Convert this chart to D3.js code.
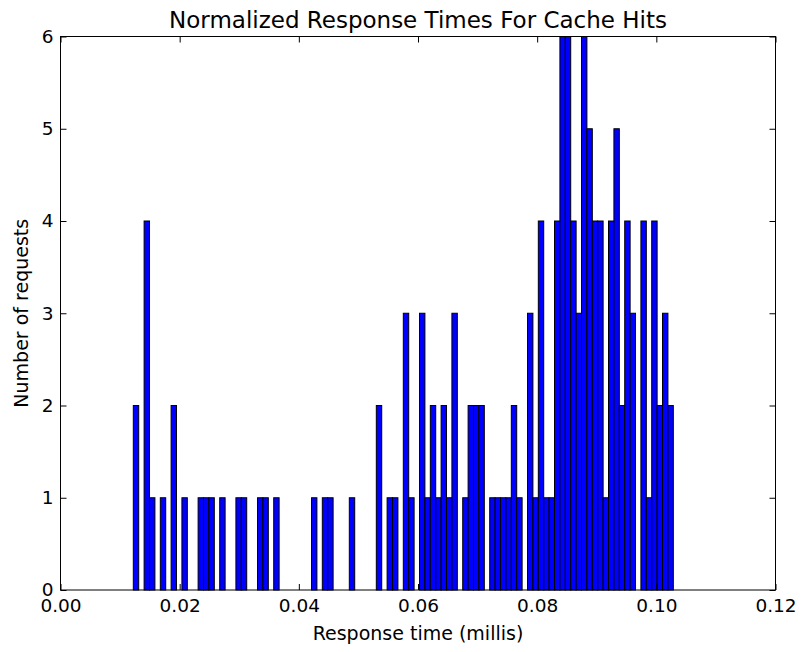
<!DOCTYPE html>
<html>
<head>
<meta charset="utf-8">
<script src="https://cdnjs.cloudflare.com/ajax/libs/d3/7.8.5/d3.min.js"></script>
<style>
body { margin: 0; background: #fff; }
text { font-family: "DejaVu Sans", sans-serif; fill: #000; }
</style>
</head>
<body>
<div id="histchart"></div>
<script>
// histogram counts, one per bin (100 bins)
var counts = [2,0,4,1,0,1,0,2,0,1,
  0,0,1,1,1,0,1,0,0,1,
  1,0,0,1,1,0,1,0,0,0,
  0,0,0,1,0,1,1,0,0,0,
  1,0,0,0,0,2,0,1,1,0,
  3,1,0,3,1,2,1,2,1,3,
  0,1,2,2,2,0,1,1,1,1,
  2,1,0,3,1,4,1,1,4,6,
  6,4,3,6,5,4,4,1,4,5,
  2,4,3,0,4,1,4,2,3,2];
// first and last bin edge (millis)
var binRange = [0.01222, 0.10285];
var xTicks = [0, 0.02, 0.04, 0.06, 0.08, 0.10, 0.12];
var yTicks = [0, 1, 2, 3, 4, 5, 6];

// set the dimensions and margins of the graph
var margin = {top: 36.5, right: 25.5, bottom: 62, left: 60.5},
width = 801 - margin.left - margin.right,
height = 652 - margin.top - margin.bottom;

var svg = d3.select("#histchart")
.append("svg")
.attr("width", 801)
.attr("height", 652)
.append("g")
.attr("transform", "translate(" + margin.left + "," + margin.top + ")");

var x = d3.scaleLinear()
.domain([0, 0.12])
.range([0, width]);

var y = d3.scaleLinear()
.domain([0, 6])
.range([height, 0]);

// bin edges
var binWidth = (binRange[1] - binRange[0]) / counts.length;
var bins = counts.map(function(c, i) {
  return {x0: binRange[0] + i * binWidth, x1: binRange[0] + (i + 1) * binWidth, n: c};
}).filter(function(d) { return d.n > 0; });

// bars
svg.selectAll("bar")
.data(bins)
.enter().append("rect")
.attr("fill", "#0000ff")
.attr("stroke", "#000")
.attr("stroke-width", 1)
.attr("x", function(d) { return x(d.x0); })
.attr("width", function(d) { return x(d.x1) - x(d.x0); })
.attr("y", function(d) { return y(d.n); })
.attr("height", function(d) { return height - y(d.n); });

// axes, ticks pointing inward
var tickLen = 6;
var xAxis = svg.append("g")
.attr("transform", "translate(0," + height + ")")
.call(d3.axisBottom(x).tickValues(xTicks).tickFormat(d3.format(".2f"))
  .tickSizeInner(-tickLen).tickSizeOuter(0).tickPadding(9));
xAxis.selectAll("text").style("font-size", "18.5px");

var yAxis = svg.append("g")
.call(d3.axisLeft(y).tickValues(yTicks).tickFormat(d3.format("d"))
  .tickSizeInner(-tickLen).tickSizeOuter(0).tickPadding(7));
yAxis.selectAll("text").style("font-size", "18.5px");

svg.append("g")
.call(d3.axisTop(x).tickValues(xTicks).tickFormat("").tickSizeInner(-tickLen).tickSizeOuter(0));
svg.append("g")
.attr("transform", "translate(" + width + ",0)")
.call(d3.axisRight(y).tickValues(yTicks).tickFormat("").tickSizeInner(-tickLen).tickSizeOuter(0));

svg.selectAll(".domain").remove();
svg.selectAll(".tick line").attr("stroke", "#000");

// frame
svg.append("rect")
.attr("width", width)
.attr("height", height)
.attr("fill", "none")
.attr("stroke", "#000")
.attr("stroke-width", 1);

// title and labels
svg.append("text")
.attr("x", width / 2)
.attr("y", -8.5)
.attr("text-anchor", "middle")
.style("font-size", "23px")
.text("Normalized Response Times For Cache Hits");

svg.append("text")
.attr("x", width / 2)
.attr("y", height + 50)
.attr("text-anchor", "middle")
.style("font-size", "19px")
.text("Response time (millis)");

svg.append("text")
.attr("transform", "translate(" + (28 - margin.left) + "," + (height / 2) + ") rotate(-90)")
.attr("text-anchor", "middle")
.style("font-size", "19px")
.text("Number of requests");
</script>
</body>
</html>
